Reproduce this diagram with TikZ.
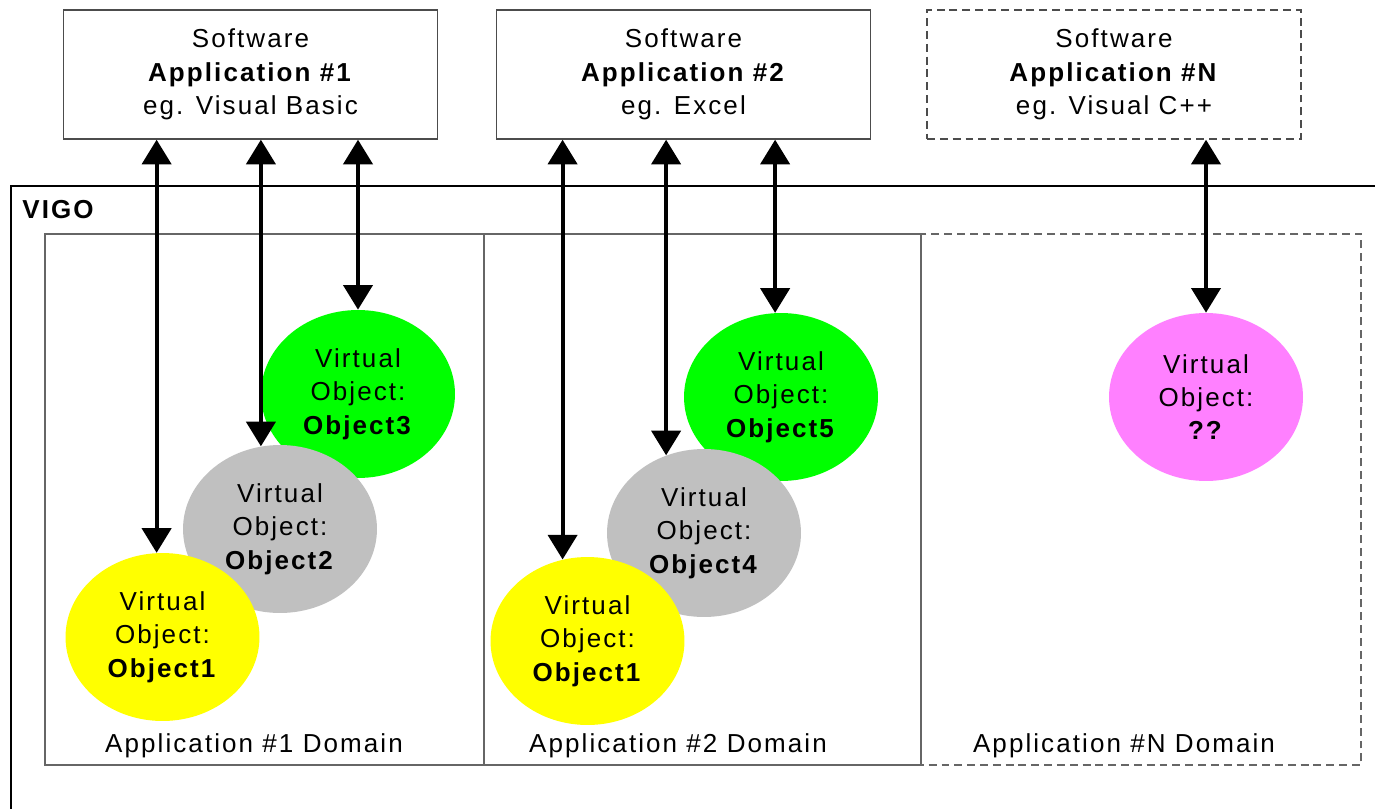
\documentclass[tikz,border=0pt]{standalone}
\usepackage{fontspec}
\setmainfont{Liberation Sans}[LetterSpace=8]
\usetikzlibrary{arrows.meta,shapes.geometric}

\definecolor{vyellow}{HTML}{FFFF00}
\definecolor{vgreen}{HTML}{00FF00}
\definecolor{vgray}{HTML}{C0C0C0}
\definecolor{vpink}{HTML}{FF80FF}

\begin{document}
\begin{tikzpicture}[x=0.02cm, y=-0.02cm,
    every node/.style={font=\fontsize{14.8}{19}\selectfont},
    appbox/.style={draw=black!70, line width=0.8pt, minimum width=7.48cm, minimum height=2.58cm, align=center},
    domline/.style={draw=black!60, line width=0.8pt},
    dashline/.style={dash pattern=on 4.5pt off 2.8pt},
    vobj/.style={ellipse, minimum width=3.88cm, minimum height=3.36cm, inner sep=0pt, align=center},
    link/.style={{Triangle[width=16.5pt,length=14pt]}-{Triangle[width=16.5pt,length=14pt]}, line width=2.3pt}]
\useasboundingbox (0,0) rectangle (1375,808);

% define the VIGO frame
\draw[line width=0.8pt] (11,186) rectangle (1420,860);
\node[anchor=base west, inner sep=0pt, font=\fontsize{14.8}{19}\selectfont\bfseries] (vigo) at (22,218) {VIGO};

% define the domains
\draw[domline] (45,234) rectangle (484,765);
\draw[domline] (484,234) rectangle (921,765);
\draw[domline, dashline] (921,234) rectangle (1361,765);
\node[anchor=base] (dom1) at (254,752) {Application \#1 Domain};
\node[anchor=base] (dom2) at (678,752) {Application \#2 Domain};
\node[anchor=base] (domn) at (1124,752) {Application \#N Domain};

% set up the applications
\node[appbox] (app1) at (250.5,74.5) {Software\\\textbf{Application \#1}\\eg. Visual Basic};
\node[appbox] (app2) at (683.5,74.5) {Software\\\textbf{Application \#2}\\eg. Excel};
\node[appbox, dashline] (appn) at (1114,74.5) {Software\\\textbf{Application \#N}\\eg. Visual C++};

% draw the virtual objects
\node[vobj, fill=vgreen] (o3) at (358,394) {Virtual\\Object:\\\textbf{Object3}};
\node[vobj, fill=vgray] (o2) at (280,529) {Virtual\\Object:\\\textbf{Object2}};
\node[vobj, fill=vyellow] (o1) at (162.5,637) {Virtual\\Object:\\\textbf{Object1}};
\node[vobj, fill=vgreen] (o5) at (781,397) {Virtual\\Object:\\\textbf{Object5}};
\node[vobj, fill=vgray] (o4) at (704,533) {Virtual\\Object:\\\textbf{Object4}};
\node[vobj, fill=vyellow] (o1b) at (587.5,641) {Virtual\\Object:\\\textbf{Object1}};
\node[vobj, fill=vpink] (on) at (1206,397) {Virtual\\Object:\\\textbf{??}};

% draw the links
\foreach \a/\b in {app1/o1.94, app1/o2.103, app1/o3.north, app2/o1b.107, app2/o4.116, app2/o5.94, appn/on.north}
    \draw[link] (\a.south -| \b) -- (\b);

\end{tikzpicture}
\end{document}
